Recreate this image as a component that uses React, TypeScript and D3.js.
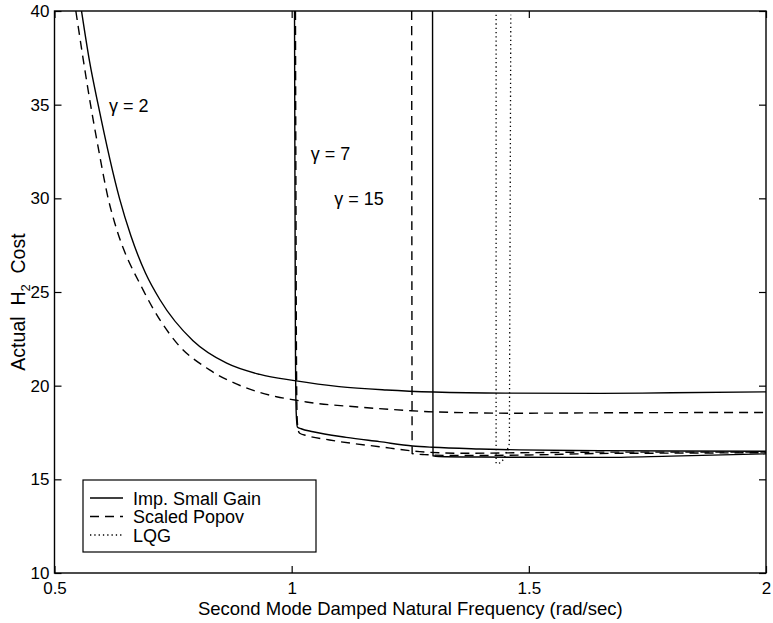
import React, { useEffect, useRef } from 'react';
import * as d3 from 'd3';

const xTicks = [0.5, 1, 1.5, 2];
const yTicks = [10, 15, 20, 25, 30, 35, 40];

// gamma = 2
const smallGainG2: [number, number][] = [
  [0.557, 40], [0.574, 37.3], [0.592, 35], [0.637, 30], [0.661, 28], [0.692, 26],
  [0.722, 24.6], [0.792, 22.4], [0.863, 21.2], [0.933, 20.6], [1.006, 20.27],
  [1.1, 19.95], [1.2, 19.77], [1.3, 19.66], [1.45, 19.6], [1.65, 19.59], [1.8, 19.62], [2.0, 19.67],
];
const popovG2: [number, number][] = [
  [0.545, 40], [0.576, 35], [0.593, 32.6], [0.614, 29.9], [0.628, 28.6],
  [0.687, 25.1], [0.757, 22.3], [0.827, 20.84], [0.897, 19.95], [0.968, 19.41], [1.01, 19.22],
  [1.031, 19.13], [1.14, 18.86], [1.241, 18.68], [1.3, 18.6], [1.48, 18.53], [1.65, 18.55], [2.0, 18.57],
];
// gamma = 7
const smallGainG7: [number, number][] = [
  [1.006, 40], [1.007, 30], [1.008, 22], [1.0095, 18.6], [1.012, 17.8], [1.02, 17.7],
  [1.045, 17.54], [1.115, 17.24], [1.185, 17.01], [1.255, 16.78], [1.297, 16.71],
  [1.396, 16.62], [1.48, 16.57], [1.65, 16.53], [1.8, 16.51], [2.0, 16.5],
];
const popovG7: [number, number][] = [
  [1.008, 40], [1.009, 30], [1.01, 22], [1.0115, 18.3], [1.014, 17.6], [1.017, 17.46],
  [1.031, 17.34], [1.08, 17.1], [1.185, 16.74], [1.27, 16.48], [1.36, 16.39],
  [1.48, 16.42], [1.65, 16.45], [1.8, 16.45], [2.0, 16.45],
];
// gamma = 15
const smallGainG15: [number, number][] = [
  [1.297, 40], [1.2975, 25], [1.298, 16.26], [1.31, 16.22], [1.4, 16.19], [1.48, 16.18],
  [1.65, 16.17], [1.8, 16.24], [2.0, 16.36],
];
const popovG15: [number, number][] = [
  [1.253, 40], [1.2535, 25], [1.254, 16.38], [1.28, 16.32], [1.35, 16.27], [1.5, 16.3],
  [1.65, 16.38], [1.8, 16.4], [2.0, 16.42],
];
const lqg: [number, number][] = [
  [1.431, 39.8], [1.431, 15.85], [1.44, 15.88], [1.448, 16.1], [1.459, 16.9], [1.462, 39.8],
];

const legendLabels = ['Imp. Small Gain', 'Scaled Popov', 'LQG'];

const FONT = '"Liberation Sans", Arial, Helvetica, sans-serif';

export default function App() {
  const ref = useRef<SVGSVGElement>(null);

  useEffect(() => {
    const width = 773;
    const height = 623;
    const margin = { top: 11, right: 7, bottom: 50, left: 54.5 };

    const svg = d3.select(ref.current);
    svg.selectAll('*').remove();

    const w = width - margin.left - margin.right;
    const h = height - margin.top - margin.bottom;

    const g = svg.append('g').attr('transform', 'translate(' + margin.left + ',' + margin.top + ')');

    const x = d3.scaleLinear().domain([0.5, 2]).range([0, w]);
    const y = d3.scaleLinear().domain([10, 40]).range([h, 0]);

    const fmt = d3.format('');

    // axes, ticks pointing inward
    const xAxis = g.append('g').attr('transform', 'translate(0,' + h + ')')
      .call(d3.axisBottom(x).tickValues(xTicks).tickFormat(fmt as any).tickSizeInner(-7).tickSizeOuter(0).tickPadding(9));
    g.append('g')
      .call(d3.axisTop(x).tickValues(xTicks).tickFormat(() => '').tickSizeInner(-7).tickSizeOuter(0));
    const yAxis = g.append('g')
      .call(d3.axisLeft(y).tickValues(yTicks).tickFormat(fmt as any).tickSizeInner(-7).tickSizeOuter(0).tickPadding(5));
    g.append('g').attr('transform', 'translate(' + w + ',0)')
      .call(d3.axisRight(y).tickValues(yTicks).tickFormat(() => '').tickSizeInner(-7).tickSizeOuter(0));

    g.selectAll('.domain').remove();
    g.selectAll('.tick line').attr('stroke', '#000').attr('stroke-width', 1.2);
    xAxis.selectAll('text').attr('font-size', 17).attr('font-family', FONT).attr('fill', '#000');
    yAxis.selectAll('text').attr('font-size', 17).attr('font-family', FONT).attr('fill', '#000');

    g.append('rect')
      .attr('width', w).attr('height', h)
      .attr('fill', 'none').attr('stroke', '#000').attr('stroke-width', 1.4);

    const line = d3.line<[number, number]>()
      .x(d => x(d[0]))
      .y(d => y(d[1]))
      .curve(d3.curveMonotoneX);

    const lineLin = d3.line<[number, number]>()
      .x(d => x(d[0]))
      .y(d => y(d[1]));

    const curves = [
      { data: smallGainG2, dash: null },
      { data: popovG2, dash: '9,6' },
      { data: smallGainG7, dash: null },
      { data: popovG7, dash: '9,6' },
      { data: smallGainG15, dash: null },
      { data: popovG15, dash: '9,6' },
    ];

    const plot = g.append('g');
    curves.forEach(c => {
      plot.append('path')
        .attr('d', line(c.data))
        .attr('fill', 'none')
        .attr('stroke', '#000')
        .attr('stroke-width', 1.4)
        .attr('stroke-dasharray', c.dash);
    });
    plot.append('path')
      .attr('d', lineLin(lqg))
      .attr('fill', 'none')
      .attr('stroke', '#000')
      .attr('stroke-width', 1.3)
      .attr('stroke-dasharray', '1.3,3');

    // gamma labels
    const gam = [
      { t: 'γ = 2', x: 0.615, y: 34.6 },
      { t: 'γ = 7', x: 1.04, y: 32.04 },
      { t: 'γ = 15', x: 1.09, y: 29.64 },
    ];
    gam.forEach(d => {
      g.append('text')
        .attr('x', x(d.x)).attr('y', y(d.y))
        .attr('font-family', FONT).attr('font-size', 18)
        .text(d.t);
    });

    // legend
    const lg = svg.append('g');
    lg.append('rect')
      .attr('x', 83).attr('y', 480).attr('width', 233).attr('height', 72)
      .attr('fill', '#fff').attr('stroke', '#000').attr('stroke-width', 1.2);
    const dashes = [null, '9,6', '1.3,3'];
    legendLabels.forEach((lab, i) => {
      const yy = 498 + i * 18.5;
      lg.append('line')
        .attr('x1', 90).attr('x2', 123).attr('y1', yy).attr('y2', yy)
        .attr('stroke', '#000').attr('stroke-width', 1.3)
        .attr('stroke-dasharray', dashes[i]);
      lg.append('text')
        .attr('x', 133).attr('y', yy + 6.5)
        .attr('font-family', FONT).attr('font-size', 18)
        .text(lab);
    });

    // axis labels
    svg.append('text')
      .attr('x', margin.left + w / 2).attr('y', 615)
      .attr('text-anchor', 'middle')
      .attr('font-family', FONT).attr('font-size', 18.5)
      .text('Second Mode Damped Natural Frequency (rad/sec)');

    const yl = svg.append('text')
      .attr('transform', 'translate(25,302) rotate(-90)')
      .attr('text-anchor', 'middle')
      .attr('font-family', FONT).attr('font-size', 19.5)
      .attr('xml:space', 'preserve');
    yl.append('tspan').text('Actual  H');
    yl.append('tspan').attr('font-size', 13).attr('dy', 5).text('2');
    yl.append('tspan').attr('dy', -5).text('  Cost');
  }, []);

  return (
    <svg ref={ref} width={773} height={623}
      style={{ position: 'absolute', left: 0, top: 0, background: '#fff' }} />
  );
}
